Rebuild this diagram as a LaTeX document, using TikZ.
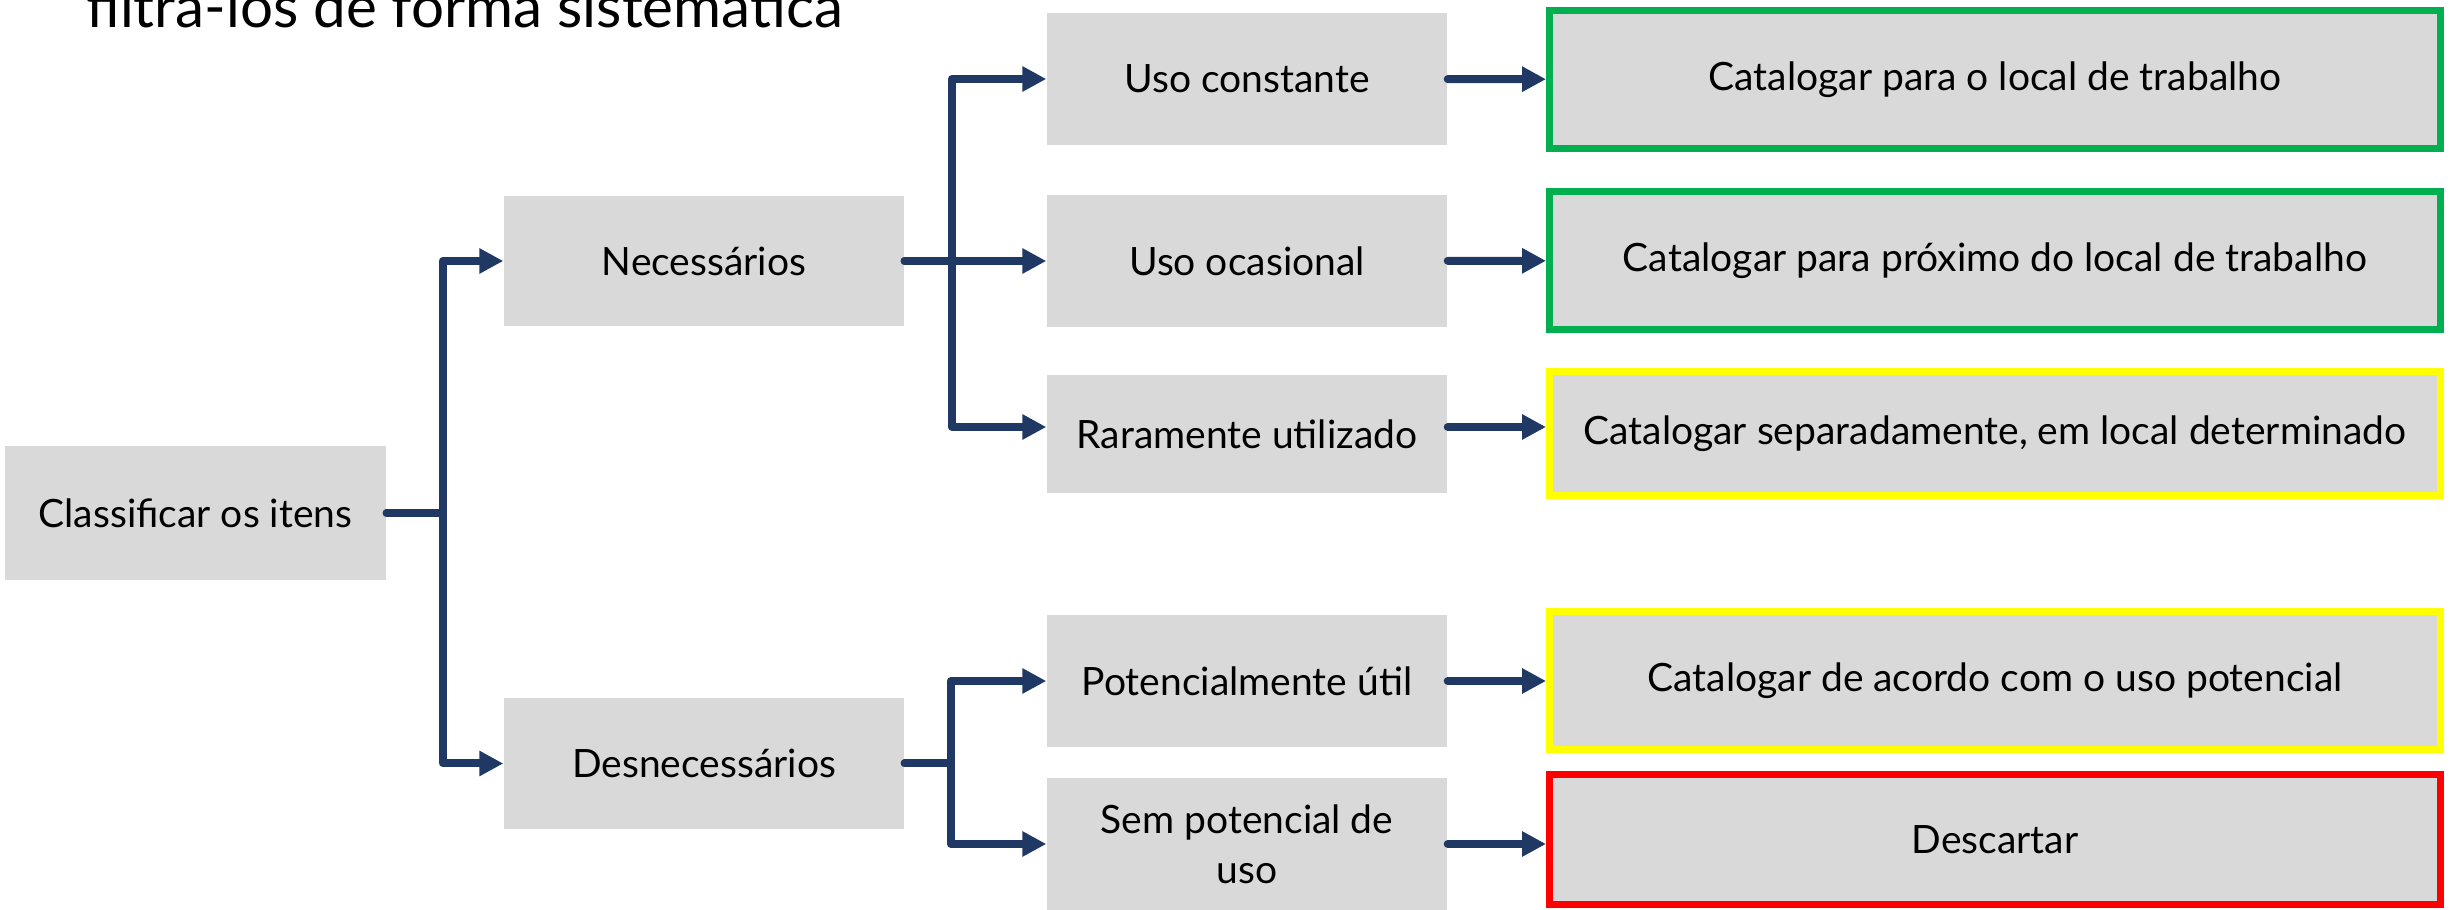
\documentclass[tikz,border=0pt]{standalone}
\usepackage{fontspec}
\setmainfont{Lato}
\usetikzlibrary{arrows.meta}

\definecolor{azul}{HTML}{1F3864}
\definecolor{cinza}{HTML}{D9D9D9}
\definecolor{verde}{HTML}{00B050}
\definecolor{amarelo}{HTML}{FFFF00}
\definecolor{vermelho}{HTML}{FF0000}

\begin{document}
\begin{tikzpicture}[
		caixa/.style={fill=cinza, minimum width=4cm, minimum height=1.32cm, inner sep=0pt, align=center, font=\fontsize{11.1}{14.2}\selectfont},
		catalogo/.style={caixa, draw, line width=0.07cm, minimum width=8.91cm, minimum height=1.38cm},
		ligacao/.style={draw=azul, line width=0.08cm, line cap=round, line join=round, -{Triangle[length=2.4mm,width=2.4mm]}}
	]
\useasboundingbox (0,0) rectangle (24.53,9.09);
\clip (0,0) rectangle (24.53,9.09);
\node[anchor=base west, inner sep=0pt, font=\fontsize{16.6}{20}\selectfont] (titulo) at (0.86,8.81) {filtrá-los de forma sistemática}; % titulo
\node[caixa, minimum width=3.81cm, minimum height=1.34cm] (classificar) at (1.955,3.96) {Classificar os itens}; % raiz
\node[caixa, minimum height=1.30cm] (necessarios) at (7.04,6.48) {Necessários}; % ramo 1
\node[caixa, minimum height=1.31cm] (desnecessarios) at (7.04,1.455) {Desnecessários}; % ramo 2
\node[caixa] (constante) at (12.47,8.30) {Uso constante}; % ramo 1.1
\node[caixa] (ocasional) at (12.47,6.48) {Uso ocasional}; % ramo 1.2
\node[caixa, minimum height=1.18cm] (raramente) at (12.47,4.75) {Raramente utilizado}; % ramo 1.3
\node[caixa] (potencial) at (12.47,2.28) {Potencialmente útil}; % ramo 2.1
\node[caixa] (sempotencial) at (12.47,0.65) {Sem potencial de\\uso}; % ramo 2.2
\node[catalogo, draw=verde] (local) at (19.95,8.295) {Catalogar para o local de trabalho}; % destino 1.1
\node[catalogo, draw=verde] (proximo) at (19.95,6.485) {Catalogar para próximo do local de trabalho}; % destino 1.2
\node[catalogo, draw=amarelo, minimum height=1.24cm] (separado) at (19.95,4.75) {Catalogar separadamente, em local determinado}; % destino 1.3
\node[catalogo, draw=amarelo] (acordo) at (19.95,2.28) {Catalogar de acordo com o uso potencial}; % destino 2.1
\node[catalogo, draw=vermelho, minimum height=1.30cm] (descartar) at (19.95,0.695) {Descartar}; % destino 2.2
\draw[ligacao] (classificar.east) -- ++(0.56,0) |- (necessarios.west) ; % classificar -> necessarios
\draw[ligacao] (classificar.east) -- ++(0.56,0) |- (desnecessarios.west) ; % classificar -> desnecessarios
\draw[ligacao] (necessarios.east) -- ++(0.47,0) |- (constante.west) ; % necessarios -> constante
\draw[ligacao] (necessarios.east) -- (ocasional.west) ; % necessarios -> ocasional
\draw[ligacao] (necessarios.east) -- ++(0.47,0) |- ([yshift=0.07cm]raramente.west) ; % necessarios -> raramente
\draw[ligacao] (desnecessarios.east) -- ++(0.46,0) |- (potencial.west) ; % desnecessarios -> potencial
\draw[ligacao] (desnecessarios.east) -- ++(0.46,0) |- (sempotencial.west) ; % desnecessarios -> sem potencial
\draw[ligacao] (constante) -- (local) ; % constante -> local
\draw[ligacao] (ocasional) -- (proximo) ; % ocasional -> proximo
\draw[ligacao] ([yshift=0.07cm]raramente.east) -- ([yshift=0.07cm]separado.west) ; % raramente -> separado
\draw[ligacao] (potencial) -- (acordo) ; % potencial -> acordo
\draw[ligacao] (sempotencial.east) -- (sempotencial.east -| descartar.west) ; % sem potencial -> descartar

		\end{tikzpicture}
\end{document}
